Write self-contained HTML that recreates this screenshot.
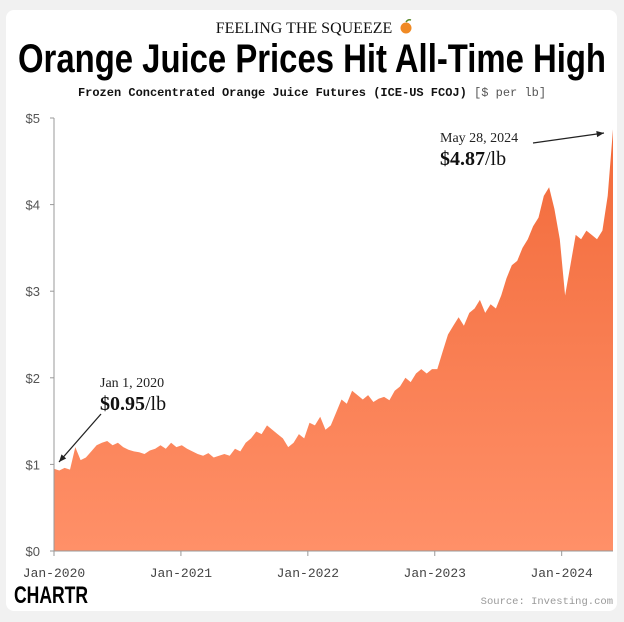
<!DOCTYPE html>
<html><head><meta charset="utf-8"><style>
body{margin:0;background:#f1f1f1;width:624px;height:622px;overflow:hidden}
svg{display:block}
</style></head><body>
<svg width="624" height="622" viewBox="0 0 624 622">
<defs><linearGradient id="g" x1="0" y1="0" x2="0" y2="1"><stop offset="0" stop-color="#f26a3a"/><stop offset="1" stop-color="#ff9068"/></linearGradient></defs>
<rect x="6" y="10" width="611" height="601" rx="8" fill="#fff"/>
<text x="304" y="33" text-anchor="middle" font-family="Liberation Serif,serif" font-size="16" fill="#111">FEELING THE SQUEEZE</text>
<circle cx="406" cy="28" r="5.5" fill="#f08a24"/>
<path d="M406,22 q2,-3 5,-2" stroke="#5a8a2a" stroke-width="1.5" fill="none"/>
<text x="312" y="72" text-anchor="middle" font-family="Liberation Sans,sans-serif" font-weight="bold" font-size="40" textLength="588" lengthAdjust="spacingAndGlyphs" fill="#000">Orange Juice Prices Hit All-Time High</text>
<text x="312" y="96" text-anchor="middle" font-family="Liberation Mono,monospace" font-size="12" fill="#111"><tspan font-weight="bold">Frozen Concentrated Orange Juice Futures (ICE-US FCOJ)</tspan><tspan fill="#555"> [$ per lb]</tspan></text>
<g id="plot"></g>
<text x="14" y="603" font-family="Liberation Sans,sans-serif" font-weight="bold" font-size="24" textLength="74" lengthAdjust="spacingAndGlyphs" fill="#000">CHARTR</text>
<text x="613" y="604" text-anchor="end" font-family="Liberation Mono,monospace" font-size="10.5" fill="#999">Source: Investing.com</text>
</svg>
<script>
const yTicks=[0,1,2,3,4,5];
const xTickLabels=["Jan-2020","Jan-2021","Jan-2022","Jan-2023","Jan-2024"];
const xTickYears=[2020,2021,2022,2023,2024];
// semi-monthly prices from Jan 2020 to end May 2024
const prices=[0.95,0.93,0.96,0.94,1.2,1.05,1.08,1.15,1.22,1.25,1.27,1.22,1.25,1.2,1.17,1.15,1.14,1.12,1.16,1.18,1.22,1.18,1.25,1.2,
1.22,1.18,1.15,1.12,1.10,1.13,1.08,1.1,1.12,1.1,1.18,1.15,1.25,1.3,1.38,1.35,1.45,1.4,1.35,1.3,1.2,1.25,1.35,1.3,
1.48,1.45,1.55,1.4,1.45,1.6,1.75,1.7,1.85,1.8,1.75,1.8,1.72,1.76,1.78,1.74,1.85,1.9,2.0,1.95,2.05,2.1,2.05,2.1,
2.1,2.3,2.5,2.6,2.7,2.6,2.75,2.8,2.9,2.75,2.85,2.8,2.95,3.15,3.3,3.35,3.5,3.6,3.75,3.85,4.1,4.2,3.95,3.6,
2.95,3.3,3.65,3.6,3.7,3.65,3.6,3.7,4.1,4.87];
const X0=54,X1=613,Y0=551,YS=86.6;
const x=t=>X0+t/(prices.length-1)*(X1-X0);
const y=v=>Y0-v*YS;
const xYear=yr=>X0+(yr-2020)/(4+148/366)*(X1-X0);
const ns="http://www.w3.org/2000/svg";
const P=document.getElementById('plot');
function mk(tag,at){const e=document.createElementNS(ns,tag);for(const k in at)e.setAttribute(k,at[k]);P.appendChild(e);return e;}
let d=`M${x(0)},${Y0}`;prices.forEach((v,i)=>{d+=`L${x(i).toFixed(1)},${y(v).toFixed(1)}`});d+=`L${x(prices.length-1)},${Y0}Z`;
const area=mk('path',{d:d,fill:'url(#g)'});


const ax=mk('path',{d:`M${X0},${y(5)}V${Y0}H${X1}`,stroke:'#999',fill:'none','stroke-width':1});


yTicks.forEach(v=>{
 const t=mk('text',{x:40,y:y(v)+5,'text-anchor':'end','font-family':'Liberation Sans,sans-serif','font-size':13,fill:'#555'});
 t.textContent='$'+v;
 
 
 mk('line',{x1:X0-4,x2:X0,y1:y(v),y2:y(v),stroke:'#999'});
});
xTickYears.forEach((yr,i)=>{
 const xx=xYear(yr);
 mk('line',{x1:xx,x2:xx,y1:Y0,y2:Y0+5,stroke:'#999'});
 const t=mk('text',{x:xx,y:Y0+26,'text-anchor':'middle','font-family':'Liberation Mono,monospace','font-size':13,fill:'#444'});
 t.textContent=xTickLabels[i];
 
 
});
function ann(tx,ty,l1,bold,ax1,ay1,ax2,ay2,name){
 const a=mk('text',{x:tx,y:ty,'font-family':'Liberation Serif,serif','font-size':14,fill:'#222'});a.textContent=l1;
 
 
 const b=mk('text',{x:tx,y:ty+23,'font-family':'Liberation Serif,serif','font-size':20,fill:'#111'});
 b.innerHTML=`<tspan font-weight="bold">${bold}</tspan>/lb`;
 
 
 const l=mk('line',{x1:ax1,y1:ay1,x2:ax2,y2:ay2,stroke:'#222','stroke-width':1.3});
 
 
 const ang=Math.atan2(ay2-ay1,ax2-ax1),s=8;
 mk('path',{d:`M${ax2},${ay2}L${ax2-s*Math.cos(ang-0.4)},${ay2-s*Math.sin(ang-0.4)}L${ax2-s*Math.cos(ang+0.4)},${ay2-s*Math.sin(ang+0.4)}Z`,fill:'#222'});
}
ann(440,142,'May 28, 2024','$4.87',533,143,604,133,'peak-annotation');
ann(100,387,'Jan 1, 2020','$0.95',101,414,59,462,'start-annotation');
</script>
</body></html>
